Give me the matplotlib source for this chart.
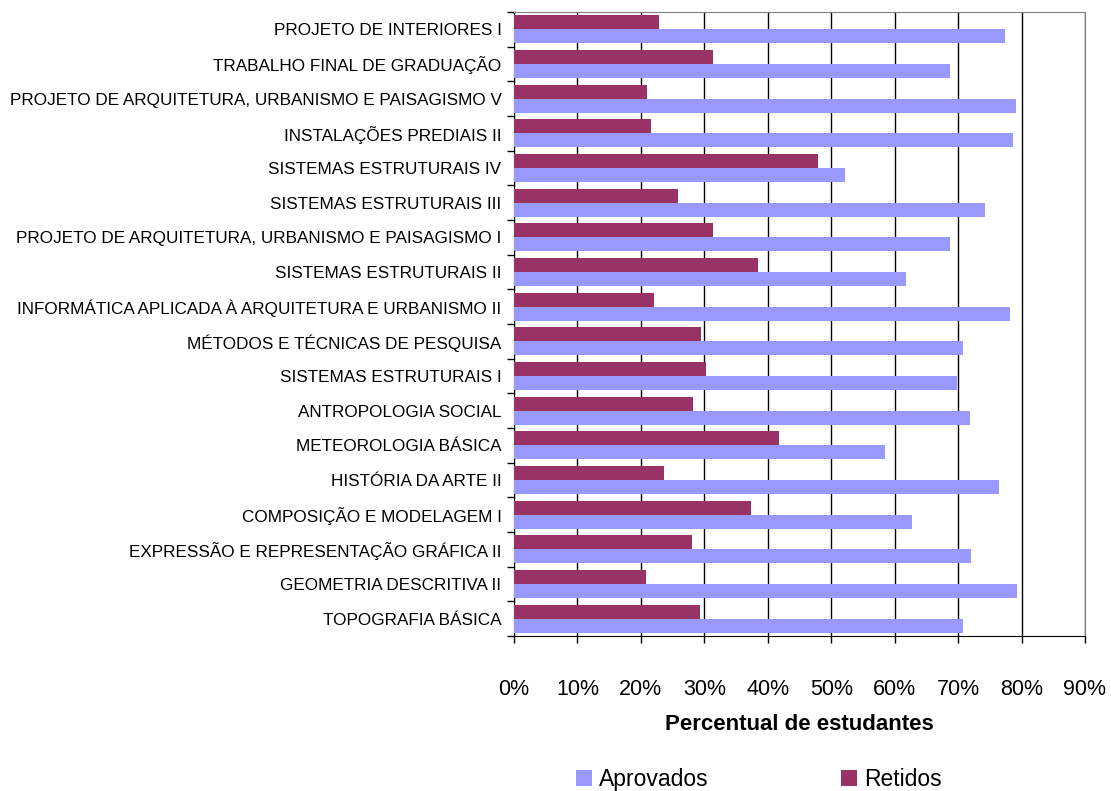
import numpy as np
import matplotlib.pyplot as plt
from matplotlib.ticker import FixedLocator, PercentFormatter

plt.rcParams['font.family'] = ['Liberation Sans', 'DejaVu Sans']

disciplinas = [
    "PROJETO DE INTERIORES I",
    "TRABALHO FINAL DE GRADUAÇÃO",
    "PROJETO DE ARQUITETURA, URBANISMO E PAISAGISMO V",
    "INSTALAÇÕES PREDIAIS II",
    "SISTEMAS ESTRUTURAIS IV",
    "SISTEMAS ESTRUTURAIS III",
    "PROJETO DE ARQUITETURA, URBANISMO E PAISAGISMO I",
    "SISTEMAS ESTRUTURAIS II",
    "INFORMÁTICA APLICADA À ARQUITETURA E URBANISMO II",
    "MÉTODOS E TÉCNICAS DE PESQUISA",
    "SISTEMAS ESTRUTURAIS I",
    "ANTROPOLOGIA SOCIAL",
    "METEOROLOGIA BÁSICA",
    "HISTÓRIA DA ARTE II",
    "COMPOSIÇÃO E MODELAGEM I",
    "EXPRESSÃO E REPRESENTAÇÃO GRÁFICA II",
    "GEOMETRIA DESCRITIVA II",
    "TOPOGRAFIA BÁSICA",
]
aprovados = [77.4, 68.8, 79.2, 78.7, 52.2, 74.3, 68.8, 61.8, 78.1,
             70.7, 69.9, 71.9, 58.5, 76.5, 62.8, 72.1, 79.3, 70.8]
retidos = [22.9, 31.4, 20.9, 21.6, 47.9, 25.8, 31.4, 38.5, 22.0,
           29.5, 30.3, 28.2, 41.7, 23.7, 37.4, 28.1, 20.8, 29.3]

cor_apr = '#9999FF'
cor_ret = '#993366'

fig = plt.figure(figsize=(11.11, 7.91), dpi=100)
ax = fig.add_axes([514/1111, 1 - 636/791, (1085-514)/1111, (636-12)/791])

y = np.arange(len(disciplinas))
h = 0.4
ax.barh(y + h/2, aprovados, height=h, color=cor_apr, label='Aprovados', zorder=3)
ax.barh(y - h/2, retidos, height=h, color=cor_ret, label='Retidos', zorder=3)

ax.set_ylim(len(disciplinas) - 0.5, -0.5)
ax.set_xlim(0, 90)
ax.set_xticks(np.arange(0, 91, 10))
ax.xaxis.set_major_formatter(PercentFormatter(decimals=0))
ax.grid(axis='x', color='black', linewidth=1, zorder=0)

ax.set_yticks(y)
ax.set_yticklabels(disciplinas, fontsize=12.3)
ax.yaxis.set_minor_locator(FixedLocator(np.arange(-0.5, len(disciplinas), 1)))
ax.tick_params(axis='y', which='major', length=0, pad=9)
ax.tick_params(axis='y', which='minor', length=5, width=1, direction='out')
ax.tick_params(axis='x', length=5, width=1, labelsize=15.5, pad=26)

for s in ['top', 'right']:
    ax.spines[s].set_color('#808080')
for s in ['left', 'bottom']:
    ax.spines[s].set_color('black')

ax.set_xlabel('Percentual de estudantes', fontsize=16, fontweight='bold', labelpad=10)

handles, labels = ax.get_legend_handles_labels()
fig.legend(handles, labels, loc='center', bbox_to_anchor=(0.683, 0.015),
           ncol=2, frameon=False, fontsize=16.5, handlelength=0.7, handleheight=0.7,
           handletextpad=0.3, columnspacing=5.8)

fig.savefig('out.png', dpi=100)
